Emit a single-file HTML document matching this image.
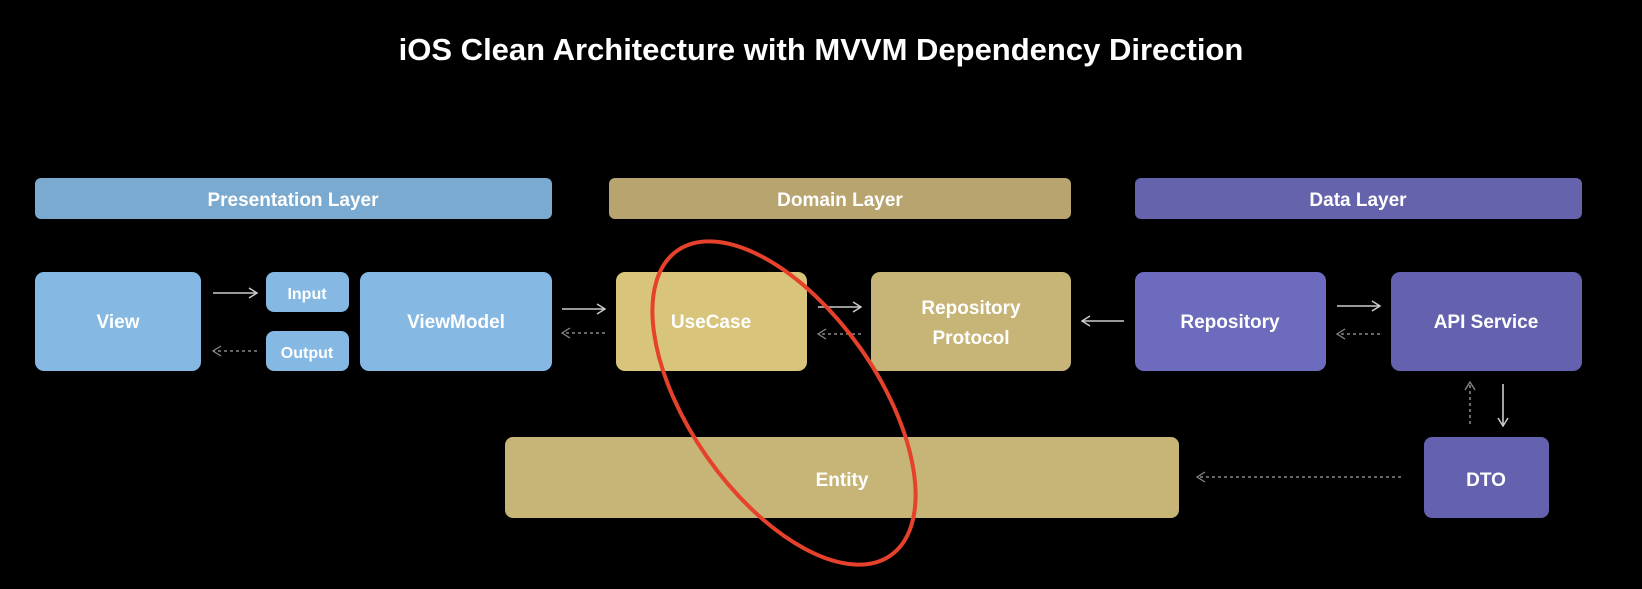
<!DOCTYPE html>
<html><head><meta charset="utf-8"><style>
body{margin:0;background:#000;width:1642px;height:584px;overflow:hidden;font-family:"Liberation Sans",sans-serif}
</style></head><body>
<svg width="1642" height="584" xmlns="http://www.w3.org/2000/svg" font-family="Liberation Sans, sans-serif" font-weight="bold">
<defs>
<marker id="a" markerWidth="10" markerHeight="12" refX="9" refY="6" orient="auto" markerUnits="userSpaceOnUse"><path d="M1,1 L9,6 L1,11" fill="none" stroke="#ccc" stroke-width="1.5"/></marker>
<marker id="d" markerWidth="10" markerHeight="12" refX="9" refY="6" orient="auto" markerUnits="userSpaceOnUse"><path d="M1,1 L9,6 L1,11" fill="none" stroke="#888" stroke-width="1.3"/></marker>
</defs>
<text x="821" y="60" fill="#fff" font-size="31" text-anchor="middle">iOS Clean Architecture with MVVM Dependency Direction</text>
<g font-size="19" fill="#fff" text-anchor="middle">
<rect x="35" y="178" width="517" height="41" rx="6" fill="#7aaad0"/><text x="293" y="206" fill="#fff">Presentation Layer</text>
<rect x="609" y="178" width="462" height="41" rx="6" fill="#b8a46e"/><text x="840" y="206" fill="#fff">Domain Layer</text>
<rect x="1135" y="178" width="447" height="41" rx="6" fill="#6663ad"/><text x="1358" y="206" fill="#fff">Data Layer</text>
<rect x="35" y="272" width="166" height="99" rx="9" fill="#85b8e3"/><text x="118" y="328" fill="#fff">View</text>
<rect x="266" y="272" width="83" height="40" rx="8" fill="#85b8e3"/><text x="307" y="299" fill="#fff" font-size="16">Input</text>
<rect x="266" y="331" width="83" height="40" rx="8" fill="#85b8e3"/><text x="307" y="358" fill="#fff" font-size="16">Output</text>
<rect x="360" y="272" width="192" height="99" rx="9" fill="#85b8e3"/><text x="456" y="328" fill="#fff">ViewModel</text>
<rect x="616" y="272" width="191" height="99" rx="9" fill="#d9c47c"/><text x="711" y="328" fill="#fff">UseCase</text>
<rect x="871" y="272" width="200" height="99" rx="9" fill="#c7b577"/><text x="971" y="314" fill="#fff">Repository</text><text x="971" y="344" fill="#fff">Protocol</text>
<rect x="1135" y="272" width="191" height="99" rx="9" fill="#6c6bbd"/><text x="1230" y="328" fill="#fff">Repository</text>
<rect x="1391" y="272" width="191" height="99" rx="9" fill="#6462ae"/><text x="1486" y="328" fill="#fff">API Service</text>
<rect x="505" y="437" width="674" height="81" rx="8" fill="#c7b577"/><text x="842" y="486" fill="#fff">Entity</text>
<rect x="1424" y="437" width="125" height="81" rx="8" fill="#6462ae"/><text x="1486" y="486" fill="#fff">DTO</text>
</g>
<g stroke-width="1.6" fill="none">
<line x1="213" y1="293" x2="257" y2="293" stroke="#ccc" marker-end="url(#a)"/>
<line x1="257" y1="351" x2="213" y2="351" stroke="#888" stroke-dasharray="3,3" marker-end="url(#d)"/>
<line x1="562" y1="309" x2="605" y2="309" stroke="#ccc" marker-end="url(#a)"/>
<line x1="605" y1="333" x2="562" y2="333" stroke="#888" stroke-dasharray="3,3" marker-end="url(#d)"/>
<line x1="818" y1="307" x2="861" y2="307" stroke="#ccc" marker-end="url(#a)"/>
<line x1="861" y1="334" x2="818" y2="334" stroke="#888" stroke-dasharray="3,3" marker-end="url(#d)"/>
<line x1="1124" y1="321" x2="1082" y2="321" stroke="#ccc" marker-end="url(#a)"/>
<line x1="1337" y1="306" x2="1380" y2="306" stroke="#ccc" marker-end="url(#a)"/>
<line x1="1380" y1="334" x2="1337" y2="334" stroke="#888" stroke-dasharray="3,3" marker-end="url(#d)"/>
<line x1="1470" y1="424" x2="1470" y2="382" stroke="#888" stroke-dasharray="3,3" marker-end="url(#d)"/>
<line x1="1503" y1="384" x2="1503" y2="426" stroke="#ccc" marker-end="url(#a)"/>
<line x1="1401" y1="477" x2="1197" y2="477" stroke="#888" stroke-dasharray="3,3" marker-end="url(#d)"/>
</g>
<ellipse cx="784" cy="403" rx="186" ry="94" transform="rotate(55 784 403)" fill="none" stroke="#e5412b" stroke-width="4"/>
</svg>
</body></html>
